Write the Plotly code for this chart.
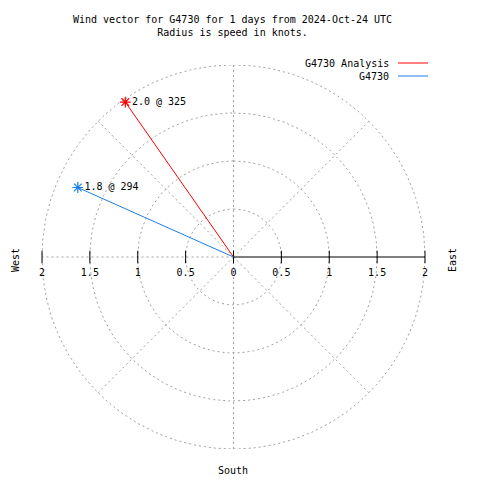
import numpy as np
import plotly.graph_objects as go

# ---- data ----
series_names = ["G4730 Analysis", "G4730"]
speeds = [1.97, 1.78]          # knots
directions = [325, 294]        # degrees (from north, clockwise)
series_colors = ["#ff0000", "#1a7fe8"]

grid_radii = [0.5, 1.0, 1.5, 2.0]
spoke_angles = [0, 45, 90, 135, 180, 225, 270, 315]
tick_vals = [-2, -1.5, -1, -0.5, 0, 0.5, 1, 1.5, 2]
tick_text = ["2", "1.5", "1", "0.5", "0", "0.5", "1", "1.5", "2"]
rmax = 2.0

title_text = "Wind vector for G4730 for 1 days from 2024-Oct-24 UTC<br>Radius is speed in knots."

FONT = "DejaVu Sans Mono"
GRID = "#a0a0a0"

fig = go.Figure()

# grid circles
theta = np.linspace(0, 2 * np.pi, 361)
for r in grid_radii:
    fig.add_trace(go.Scatter(x=r * np.sin(theta), y=r * np.cos(theta), mode="lines",
                             line=dict(color=GRID, width=1, dash="2px,3px"),
                             hoverinfo="skip", showlegend=False))
# spokes (right horizontal spoke is the solid axis)
for a in spoke_angles:
    if a == 90:
        continue
    ar = np.deg2rad(a)
    fig.add_trace(go.Scatter(x=[0, rmax * np.sin(ar)], y=[0, rmax * np.cos(ar)], mode="lines",
                             line=dict(color=GRID, width=1, dash="2px,3px"),
                             hoverinfo="skip", showlegend=False))
# radial axis line (solid black, east side)
fig.add_trace(go.Scatter(x=[0, rmax], y=[0, 0], mode="lines",
                         line=dict(color="black", width=1.2),
                         hoverinfo="skip", showlegend=False))
# tick marks along the horizontal axis
fig.add_trace(go.Scatter(x=tick_vals, y=[0] * len(tick_vals), mode="markers",
                         marker=dict(symbol="line-ns-open", size=9, color="black",
                                     line=dict(color="black", width=1)),
                         hoverinfo="skip", showlegend=False, cliponaxis=False))

# vectors
for name, s, d, c in zip(series_names, speeds, directions, series_colors):
    dr = np.deg2rad(d)
    x = s * np.sin(dr)
    y = s * np.cos(dr)
    fig.add_trace(go.Scatter(x=[0, x], y=[0, y], mode="lines",
                             line=dict(color=c, width=1), showlegend=False, name=name))
    fig.add_trace(go.Scatter(x=[x], y=[y], mode="markers+text",
                             marker=dict(symbol="asterisk-open", size=9, color=c,
                                         line=dict(color=c, width=1.2)),
                             text=["%.1f @ %d" % (s, d)], textposition="middle right",
                             textfont=dict(family=FONT, size=10, color="black"),
                             cliponaxis=False, showlegend=False, name=name))

# the page body adds an 8px offset; positions below are reference-page pixels
OFF = 8
W, H = 480, 480
L, T = 42 - OFF, 65 - OFF
pw, ph = 383, 384
R, B = W - L - pw, H - T - ph


def px(xp):
    return (xp - OFF - L) / pw


def py(yp):
    return (T + ph - (yp - OFF)) / ph


annotations = [
    dict(text=title_text, x=px(232), y=py(12), xref="paper", yref="paper",
         xanchor="center", yanchor="top", showarrow=False,
         font=dict(family=FONT, size=10, color="black")),
    dict(text="West", x=px(15), y=py(260), xref="paper", yref="paper", textangle=-90,
         xanchor="center", yanchor="middle",
         showarrow=False, font=dict(family=FONT, size=10, color="black")),
    dict(text="East", x=px(452), y=py(260), xref="paper", yref="paper", textangle=-90,
         xanchor="center", yanchor="middle",
         showarrow=False, font=dict(family=FONT, size=10, color="black")),
    dict(text="South", x=px(233), y=py(470), xref="paper", yref="paper",
         xanchor="center", yanchor="middle",
         showarrow=False, font=dict(family=FONT, size=10, color="black")),
]
shapes = []
for i, (name, c) in enumerate(zip(series_names, series_colors)):
    yy = 63 + 13 * i
    annotations.append(dict(text=name, x=px(391), y=py(yy), xref="paper", yref="paper",
                            xanchor="right", yanchor="middle", showarrow=False,
                            font=dict(family=FONT, size=10, color="black")))
    shapes.append(dict(type="line", xref="paper", yref="paper",
                       x0=px(398), x1=px(428), y0=py(yy), y1=py(yy),
                       line=dict(color=c, width=1)))

fig.update_layout(
    width=W, height=H,
    margin=dict(l=L, r=R, t=T, b=B, autoexpand=False),
    paper_bgcolor="white", plot_bgcolor="white",
    showlegend=False,
    annotations=annotations, shapes=shapes,
    xaxis=dict(range=[-rmax, rmax], showgrid=False, zeroline=False, showline=False,
               anchor="free", position=0.5, side="bottom", automargin=False,
               tickmode="array", tickvals=tick_vals, ticktext=tick_text,
               ticks="", ticklabelstandoff=8,
               tickfont=dict(family=FONT, size=10, color="black")),
    yaxis=dict(range=[-rmax, rmax], showgrid=False, zeroline=False, showline=False,
               showticklabels=False, ticks="", automargin=False),
    font=dict(family=FONT, size=10, color="black"),
)

fig.write_html("out.html")
